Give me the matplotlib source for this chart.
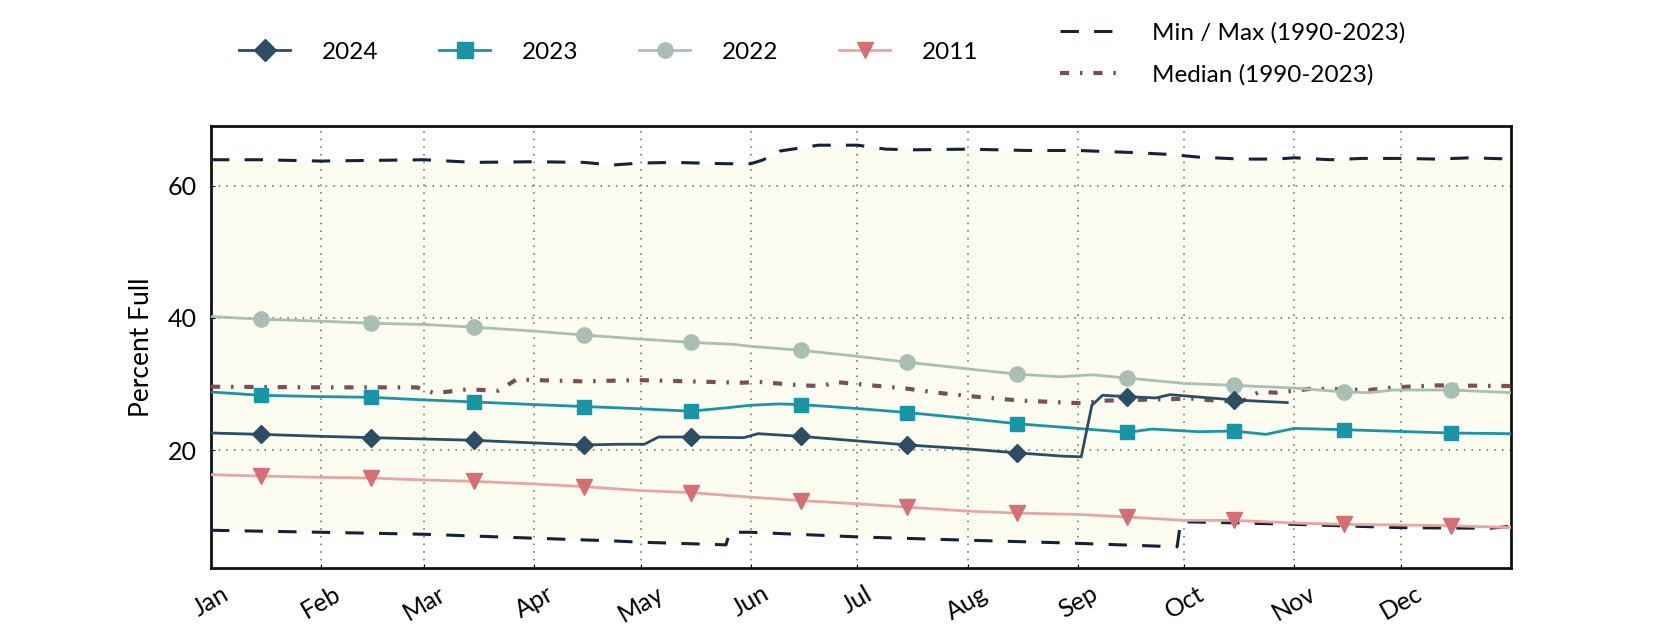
import matplotlib
matplotlib.use("Agg")
import matplotlib.pyplot as plt
from matplotlib.lines import Line2D
import numpy as np

plt.rcParams['font.family'] = ['Lato', 'DejaVu Sans']

# ---- data (day of year 2024, percent full) ----
month_labels = ['Jan', 'Feb', 'Mar', 'Apr', 'May', 'Jun', 'Jul', 'Aug', 'Sep', 'Oct', 'Nov', 'Dec']
month_starts = [0, 31, 60, 91, 121, 152, 182, 213, 244, 274, 305, 335]
year_end = 366
mid_month = [14, 45, 74, 105, 135, 166, 196, 227, 258, 288, 319, 349]

d2024 = [0, 14, 31, 45, 60, 74, 91, 105, 115, 122, 126, 135, 150, 154, 166, 182, 196, 213, 227, 240, 245, 248, 251, 258, 266, 270, 288, 303]
v2024 = [22.6, 22.4, 22.1, 21.9, 21.7, 21.5, 21.1, 20.8, 20.9, 20.9, 22.0, 22.0, 21.9, 22.5, 22.1, 21.4, 20.8, 20.2, 19.6, 19.1, 19.0, 26.8, 28.3, 28.1, 27.9, 28.4, 27.6, 27.2]

d2023 = [0, 14, 31, 45, 60, 74, 91, 105, 115, 135, 145, 152, 160, 166, 182, 196, 213, 227, 244, 258, 265, 278, 288, 297, 305, 319, 349, 366]
v2023 = [28.8, 28.3, 28.1, 28.0, 27.6, 27.3, 26.9, 26.6, 26.4, 25.9, 26.4, 26.8, 27.0, 26.9, 26.3, 25.7, 24.8, 24.0, 23.3, 22.7, 23.2, 22.8, 22.9, 22.4, 23.3, 23.1, 22.6, 22.5]

d2022 = [0, 14, 31, 45, 60, 74, 91, 105, 121, 135, 147, 152, 166, 182, 196, 213, 227, 239, 248, 258, 274, 288, 305, 319, 326, 333, 349, 366]
v2022 = [40.2, 39.8, 39.5, 39.2, 39.0, 38.6, 38.0, 37.4, 36.8, 36.3, 36.0, 35.7, 35.1, 34.2, 33.3, 32.3, 31.5, 31.1, 31.4, 30.9, 30.1, 29.8, 29.4, 28.8, 28.7, 29.1, 29.1, 28.7]

d2011 = [0, 14, 31, 45, 60, 74, 91, 105, 121, 135, 152, 166, 182, 196, 213, 227, 244, 258, 274, 288, 305, 319, 349, 366]
v2011 = [16.3, 16.1, 15.9, 15.8, 15.5, 15.3, 14.9, 14.5, 13.9, 13.6, 12.9, 12.4, 11.9, 11.4, 10.8, 10.5, 10.3, 9.9, 9.4, 9.4, 9.0, 8.8, 8.6, 8.3]

d_min = [0, 31, 60, 91, 113, 121, 145, 146, 152, 182, 213, 240, 272, 273, 290, 305, 335, 360, 366]
v_min = [7.9, 7.6, 7.3, 6.7, 6.3, 6.1, 5.7, 7.6, 7.6, 6.9, 6.4, 6.0, 5.4, 9.2, 9.0, 8.8, 8.3, 8.2, 8.5]

d_max = [0, 14, 31, 45, 60, 74, 91, 105, 113, 121, 130, 145, 152, 155, 158, 160, 171, 182, 190, 198, 213, 230, 244, 259, 270, 278, 290, 300, 305, 315, 324, 335, 345, 355, 366]
v_max = [63.9, 63.9, 63.7, 63.8, 63.9, 63.5, 63.6, 63.5, 63.1, 63.4, 63.5, 63.3, 63.3, 63.8, 64.5, 65.2, 66.1, 66.1, 65.5, 65.4, 65.5, 65.3, 65.3, 65.0, 64.7, 64.3, 64.0, 64.0, 64.2, 63.9, 64.1, 64.1, 64.0, 64.2, 64.0]

d_med = [0, 31, 58, 63, 72, 81, 86, 91, 105, 120, 135, 149, 155, 166, 172, 176, 182, 196, 206, 217, 228, 245, 252, 276, 283, 290, 295, 300, 310, 326, 333, 345, 366]
v_med = [29.6, 29.5, 29.5, 28.6, 29.2, 29.0, 30.7, 30.6, 30.4, 30.6, 30.4, 30.2, 30.3, 29.8, 29.7, 30.3, 30.0, 29.3, 28.6, 28.0, 27.5, 27.1, 27.5, 27.8, 27.5, 27.3, 28.8, 28.7, 29.3, 29.1, 29.5, 29.8, 29.7]

y_ticks = [20, 40, 60]

# ---- styles ----
c2024 = '#2c4d64'
c2023 = '#1a95a6'
c2022 = '#aabfb3'
c2011_line = '#e8a6a1'
c2011_mark = '#d36f75'
c_minmax = '#15233a'
c_med = '#7b4f59'
fill_col = '#fcfcf1'
med_dash = (2.2, 2.6, 0.6, 2.6)

fig = plt.figure(figsize=(16.8, 6.3), dpi=100)
ax = fig.add_axes([211/1680, 1 - 568/630, 1300/1680, 442/630])

grid_days = sorted(set(d_min) | set(d_max))
lo = np.interp(grid_days, d_min, v_min)
hi = np.interp(grid_days, d_max, v_max)
ax.fill_between(grid_days, lo, hi, color=fill_col, zorder=0, linewidth=0)

ax.grid(True, linestyle=(0, (1, 4)), color='#666666', linewidth=1.1, zorder=1)
ax.set_axisbelow(True)

def mark_idx(days):
    return [i for i, d in enumerate(days) if d in mid_month]

lw = 2.0
ax.plot(d_max, v_max, color=c_minmax, lw=2.2, dashes=(6, 5), zorder=3)
ax.plot(d_min, v_min, color=c_minmax, lw=2.2, dashes=(6, 5), zorder=3)
ax.plot(d_med, v_med, color=c_med, lw=3.0, dashes=med_dash, zorder=3)

ax.plot(d2011, v2011, color=c2011_line, lw=lw, zorder=4)
ax.plot([d2011[i] for i in mark_idx(d2011)], [v2011[i] for i in mark_idx(d2011)],
        ls='none', marker='v', ms=11, color=c2011_mark, zorder=5)
ax.plot(d2022, v2022, color=c2022, lw=lw, marker='o', ms=11, markevery=mark_idx(d2022), zorder=4)
ax.plot(d2023, v2023, color=c2023, lw=lw, marker='s', ms=10.5, markevery=mark_idx(d2023), zorder=4)
ax.plot(d2024, v2024, color=c2024, lw=lw, marker='D', ms=9, markevery=mark_idx(d2024), zorder=5)

ax.set_xlim(0, year_end)
ax.set_ylim(2.2, 69)
ax.set_xticks(month_starts)
ax.set_xticklabels(month_labels, rotation=30, ha='center', fontsize=18)
ax.set_yticks(y_ticks)
ax.tick_params(axis='y', labelsize=18, direction='in', length=3, pad=10)
ax.tick_params(axis='x', direction='in', length=3, pad=10)
ax.set_ylabel('Percent Full', fontsize=19, labelpad=10)
for s in ax.spines.values():
    s.set_linewidth(2.0)
    s.set_color('#111111')

h1 = [Line2D([], [], color=c2024, lw=lw, marker='D', ms=11),
      Line2D([], [], color=c2023, lw=lw, marker='s', ms=11),
      Line2D([], [], color=c2022, lw=lw, marker='o', ms=11),
      Line2D([], [], color=c2011_line, lw=lw, marker='v', ms=11, mfc=c2011_mark, mec=c2011_mark)]
fig.legend(h1, ['2024', '2023', '2022', '2011'], loc='center left', bbox_to_anchor=(0.1425, 0.917),
           ncol=4, frameon=False, fontsize=17.5, handlelength=2.1, handletextpad=1.3,
           columnspacing=2.5, borderpad=0, borderaxespad=0)

h2 = [Line2D([], [], color=c_minmax, lw=2.2, dashes=(6, 5)),
      Line2D([], [], color=c_med, lw=3.0, dashes=med_dash)]
fig.legend(h2, ['Min / Max (1990-2023)', 'Median (1990-2023)'], loc='center left',
           bbox_to_anchor=(0.631, 0.915), ncol=1, frameon=False, fontsize=17.5,
           handlelength=2.3, handletextpad=1.5, labelspacing=0.85, borderpad=0, borderaxespad=0)

fig.savefig('out.png', dpi=100)
